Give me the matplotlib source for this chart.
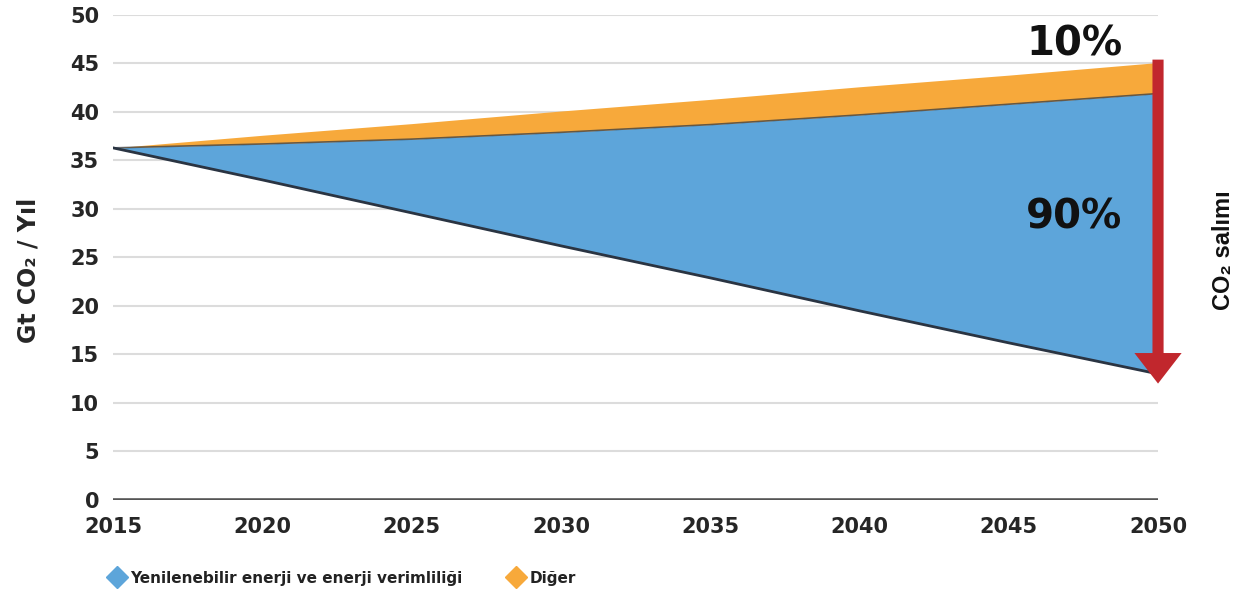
import matplotlib
matplotlib.use("Agg")
import matplotlib.pyplot as plt
from matplotlib.lines import Line2D

# values (Gt CO2 / year)
years = [2015, 2020, 2025, 2030, 2035, 2040, 2045, 2050]
bottom = [36.3, 33.0, 29.6, 26.2, 22.9, 19.5, 16.2, 13.0]     # remaining emissions
renew_top = [36.3, 36.7, 37.2, 37.9, 38.7, 39.7, 40.8, 41.9]  # renewables + efficiency
other_top = [36.3, 37.6, 38.8, 40.1, 41.3, 42.6, 43.8, 45.1]  # other measures
yticks = list(range(0, 55, 5))

blue = "#5da5da"
orange = "#f7a93b"
dark = "#2a3442"
txt = "#262626"

fig = plt.figure(figsize=(12.38, 5.95), dpi=100)
ax = fig.add_axes([0.0913, 0.1597, 0.8441, 0.8151])

for y in yticks[1:]:
    ax.axhline(y, color="#dcdcdc", lw=1.5, zorder=0)
ax.axhline(0, color="#555555", lw=2.6, zorder=1)

ax.fill_between(years, bottom, renew_top, color=blue, lw=0, zorder=2)
ax.fill_between(years, renew_top, other_top, color=orange, lw=0, zorder=2)
ax.plot(years, bottom, color=dark, lw=2.0, zorder=3)
ax.plot(years, renew_top, color=dark, lw=1.2, alpha=0.7, zorder=3)

# red arrow: CO2 emissions reduction
ax.annotate("", xy=(2050, 12.0), xytext=(2050, 45.4),
            arrowprops=dict(arrowstyle="simple,head_length=2.2,head_width=3.4,tail_width=0.8",
                            mutation_scale=10, color="#c1272d", lw=0,
                            shrinkA=0, shrinkB=0), zorder=5)

ax.text(2047.2, 47.0, "10%", fontsize=29, fontweight="bold", color="#111111",
        ha="center", va="center", zorder=6)
ax.text(2047.2, 29.1, "90%", fontsize=29, fontweight="bold", color="#111111",
        ha="center", va="center", zorder=6)

ax.set_xlim(2015, 2050)
ax.set_ylim(0, 50)
ax.set_xticks(years)
ax.set_yticks(yticks)
ax.tick_params(length=0, labelsize=15, labelcolor=txt)
ax.tick_params(axis="x", pad=12)
ax.tick_params(axis="y", pad=10)
for lab in ax.get_xticklabels() + ax.get_yticklabels():
    lab.set_fontweight("bold")
for s in ax.spines.values():
    s.set_visible(False)

fig.text(0.023, 0.546, "Gt CO₂ / Yıl", rotation=90, fontsize=17, fontweight="bold",
         color=txt, ha="center", va="center")
fig.text(0.988, 0.58, "CO₂ salımı", rotation=90, fontsize=17, fontweight="bold",
         family="Liberation Sans", color="#111111", ha="center", va="center")

handles = [Line2D([], [], marker="D", ls="none", color=blue, markersize=11),
           Line2D([], [], marker="D", ls="none", color=orange, markersize=11)]
leg = fig.legend(handles, ["Yenilenebilir enerji ve enerji verimliliği", "Diğer"],
                 loc="center left", bbox_to_anchor=(0.077, 0.028), ncol=2,
                 frameon=False, handlelength=1.0, handletextpad=0.4,
                 columnspacing=3.0, prop={"size": 11, "weight": "bold"})
for t in leg.get_texts():
    t.set_color("#222222")

fig.savefig("out.png", dpi=100)
